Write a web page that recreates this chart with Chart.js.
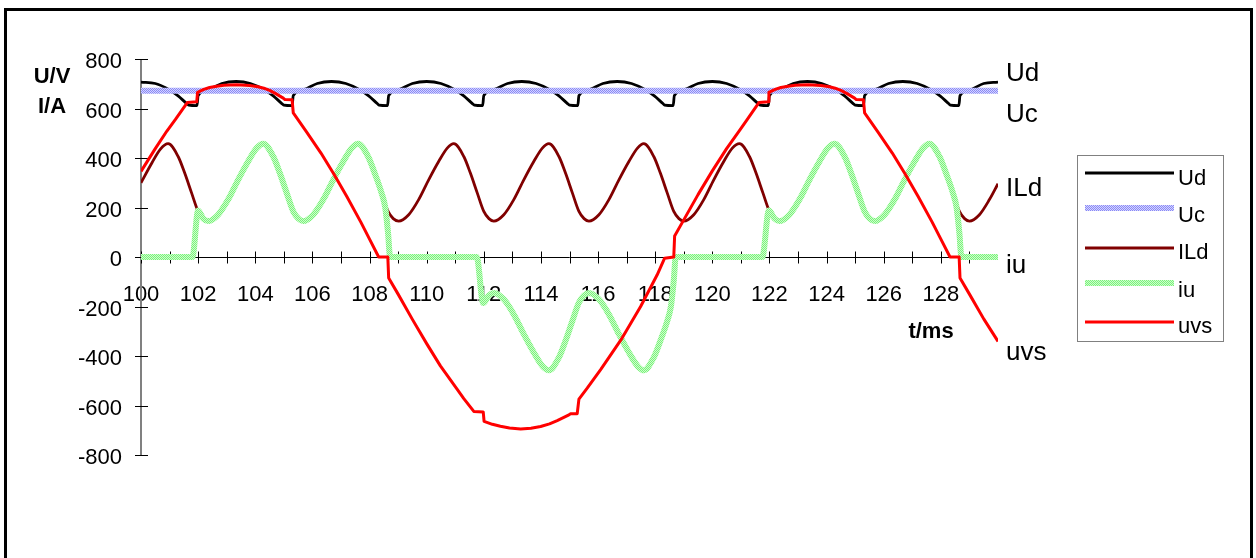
<!DOCTYPE html>
<html>
<head>
<meta charset="utf-8">
<script src="https://cdn.jsdelivr.net/npm/chart.js@4.4.1/dist/chart.umd.min.js"></script>
<style>
  html, body { margin: 0; padding: 0; background: #fff; overflow: hidden; }
  #frame { position: absolute; left: 4px; top: 8px; width: 1243px; height: 600px; border: 3px solid #000; }
  #wrap { position: absolute; left: 0; top: 0; width: 1256px; height: 558px; }
</style>
</head>
<body>
<div id="frame"></div>
<div id="wrap"><canvas id="c" width="1256" height="558"></canvas></div>
<script>
// series names, in Excel drawing order
const seriesNames = ['Ud', 'Uc', 'ILd', 'iu', 'uvs'];

// x tick labels (every 2 ms) and y ticks
const xTickLabels = ['100','102','104','106','108','110','112','114','116','118','120','122','124','126','128'];
const yTicks = [-800, -600, -400, -200, 0, 200, 400, 600, 800];

// Ud - DC voltage (V)
const udT = [
  100, 100.5, 101, 101.3, 101.6, 101.67, 101.96, 102, 102.33, 102.83,
  103.33, 103.83, 104.33, 104.63, 104.93, 105, 105.29, 105.33, 105.67, 106.17,
  106.67, 107.17, 107.67, 107.97, 108.27, 108.33, 108.63, 108.67, 109, 109.5,
  110, 110.5, 111, 111.3, 111.6, 111.67, 111.96, 112, 112.33, 112.83,
  113.33, 113.83, 114.33, 114.63, 114.93, 115, 115.29, 115.33, 115.67, 116.17,
  116.67, 117.17, 117.67, 117.97, 118.27, 118.33, 118.63, 118.67, 119, 119.5,
  120, 120.5, 121, 121.3, 121.6, 121.67, 121.96, 122, 122.33, 122.83,
  123.33, 123.83, 124.33, 124.63, 124.93, 125, 125.29, 125.33, 125.67, 126.17,
  126.67, 127.17, 127.67, 127.97, 128.27, 128.33, 128.63, 128.67, 129, 129.5,
  130
];
const udV = [
  707, 701, 675, 651, 620, 614, 612, 652, 675, 701,
  709, 701, 675, 651, 620, 614, 612, 652, 675, 701,
  709, 701, 675, 651, 620, 614, 612, 652, 675, 701,
  709, 701, 675, 651, 620, 614, 612, 652, 675, 701,
  709, 701, 675, 651, 620, 614, 612, 652, 675, 701,
  709, 701, 675, 651, 620, 614, 612, 652, 675, 701,
  709, 701, 675, 651, 620, 614, 612, 652, 675, 701,
  709, 701, 675, 651, 620, 614, 612, 652, 675, 701,
  709, 701, 675, 651, 620, 614, 612, 652, 675, 701,
  707
];

// Uc - capacitor voltage (V), flat
const ucT = [100, 130];
const ucV = [672, 672];

// ILd - DC current (A)
const ildT = [
  100, 100.38, 100.68,
  100.95, 101.3, 101.53, 101.77, 102, 102.18, 102.35, 102.7, 103.05, 103.4, 103.75, 104.05,
  104.28, 104.63, 104.86, 105.1, 105.33, 105.51, 105.68, 106.03, 106.38, 106.73, 107.08, 107.38,
  107.6, 107.95, 108.18, 108.42, 108.65, 108.83, 109.02, 109.37, 109.72, 110.07, 110.42, 110.72,
  110.95, 111.3, 111.53, 111.77, 112, 112.18, 112.35, 112.7, 113.05, 113.4, 113.75, 114.05,
  114.28, 114.63, 114.86, 115.1, 115.33, 115.51, 115.68, 116.03, 116.38, 116.73, 117.08, 117.38,
  117.6, 117.95, 118.18, 118.42, 118.65, 118.83, 119, 119.35, 119.7, 120.05, 120.4, 120.7,
  120.95, 121.3, 121.53, 121.77, 122, 122.18, 122.35, 122.7, 123.05, 123.4, 123.75, 124.05,
  124.28, 124.63, 124.86, 125.1, 125.33, 125.51, 125.68, 126.03, 126.38, 126.73, 127.08, 127.38,
  127.6, 127.95, 128.18, 128.42, 128.65, 128.83, 129, 129.35, 129.7, 130
];
const ildV = [
  300, 380, 436,
  458, 406, 339, 259, 184, 155, 145, 171, 232, 312, 386, 440,
  458, 406, 339, 259, 184, 155, 145, 171, 232, 312, 386, 440,
  458, 406, 339, 259, 184, 155, 145, 171, 232, 312, 386, 440,
  458, 406, 339, 259, 184, 155, 145, 171, 232, 312, 386, 440,
  458, 406, 339, 259, 184, 155, 145, 171, 232, 312, 386, 440,
  458, 406, 339, 259, 184, 155, 145, 171, 232, 312, 386, 440,
  458, 406, 339, 259, 184, 155, 145, 171, 232, 312, 386, 440,
  458, 406, 339, 259, 184, 155, 145, 171, 232, 312, 386, 440,
  458, 406, 339, 259, 184, 155, 145, 171, 232, 296
];

// iu - phase current (A)
const iuT = [
  100, 101.8, 102, 102.18, 102.35, 102.7, 103.05, 103.4, 103.75, 104.05,
  104.28, 104.63, 104.86, 105.1, 105.33, 105.51, 105.68, 106.03, 106.38, 106.73, 107.08, 107.38,
  107.6, 107.95, 108.18, 108.42, 108.55, 108.65, 108.72,
  111.75, 111.98, 112.18, 112.35, 112.7, 113.05, 113.4, 113.75, 114.05,
  114.28, 114.63, 114.86, 115.1, 115.33, 115.51, 115.68, 116.03, 116.38, 116.73, 117.08, 117.38,
  117.6, 117.95, 118.18, 118.42, 118.55, 118.65, 118.72,
  121.75, 121.98, 122.18, 122.35, 122.7, 123.05, 123.4, 123.75, 124.05,
  124.28, 124.63, 124.86, 125.1, 125.33, 125.51, 125.68, 126.03, 126.38, 126.73, 127.08, 127.38,
  127.6, 127.95, 128.18, 128.42, 128.55, 128.65, 128.72, 130
];
const iuV = [
  0, 0, 188, 155, 145, 171, 232, 312, 386, 440,
  458, 406, 339, 259, 184, 155, 145, 171, 232, 312, 386, 440,
  458, 406, 339, 259, 200, 95, 0,
  0, -186, -155, -145, -171, -232, -312, -386, -440,
  -458, -406, -339, -259, -184, -155, -145, -171, -232, -312, -386, -440,
  -458, -406, -339, -259, -200, -95, 0,
  0, 188, 155, 145, 171, 232, 312, 386, 440,
  458, 406, 339, 259, 184, 155, 145, 171, 232, 312, 386, 440,
  458, 406, 339, 259, 200, 95, 0, 0
];

// uvs - valve voltage (V)
const uvsT = [
  100, 100.5, 100.9, 101.2, 101.62, 101.95, 101.98, 102.2, 102.4, 102.65, 102.9, 103.35,
  103.8, 104.1, 104.3, 104.5, 104.7, 104.98, 105.04, 105.29, 105.33, 105.8, 106.3, 106.75,
  107.2, 107.7, 108, 108.32, 108.64, 108.67, 109, 109.5, 110, 110.48,
  111.07, 111.3, 111.65, 111.98, 112.01, 112.3, 112.58, 112.9, 113.29, 113.65, 113.99, 114.3, 114.57, 114.98,
  115.04, 115.27, 115.33, 115.62, 116.09, 116.8, 117.49, 118.07, 118.33, 118.65,
  118.68, 119, 119.5, 120, 120.5, 120.93, 121.2, 121.63, 121.95, 121.98,
  122.2, 122.4, 122.65, 122.9, 123.35, 123.8, 124.1, 124.3, 124.5, 124.7, 124.98, 125.04, 125.29, 125.33,
  125.8, 126.3, 126.75, 127.2, 127.7, 128, 128.32, 128.64, 128.67, 129,
  129.5, 130
];
const uvsV = [
  346, 438, 508, 555, 624, 627, 665, 677, 685, 690, 694, 696,
  693, 688, 682, 673, 661, 642, 636, 635, 582, 505, 420, 335,
  245, 140, 72, 0, 0, -85, -150, -252, -350, -440,
  -535, -572, -624, -626, -664, -676, -684, -691, -695, -692, -685, -674, -661, -638,
  -633, -633, -574, -530, -455, -335, -200, -72, -5, 0,
  85, 150, 252, 348, 438, 508, 552, 624, 627, 665,
  677, 685, 690, 694, 696, 693, 688, 682, 673, 661, 642, 636, 635, 582,
  505, 420, 335, 245, 140, 72, 0, 0, -85, -150,
  -250, -341
];

const FONT = "'Liberation Sans', Arial, sans-serif";

function toPoints(ts, vs) {
  return ts.map((t, i) => ({ x: t, y: vs[i] }));
}

const canvas = document.getElementById('c');
const mainCtx = canvas.getContext('2d');

// Excel-style dotted fill for the thick pale lines
function dotPattern(dark, light) {
  const c = document.createElement('canvas');
  c.width = 2; c.height = 2;
  const g = c.getContext('2d');
  g.fillStyle = light; g.fillRect(0, 0, 2, 2);
  g.fillStyle = dark; g.fillRect(0, 0, 1, 1); g.fillRect(1, 1, 1, 1);
  return mainCtx.createPattern(c, 'repeat');
}

const ucFill = dotPattern('#8a8af5', '#d4d4ff');
const iuFill = dotPattern('#7cf07c', '#ccffcc');

// end-of-line labels on the right
const endLabels = [
  { text: 'Ud', base: 81 },
  { text: 'Uc', base: 122 },
  { text: 'ILd', base: 196 },
  { text: 'iu', base: 273 },
  { text: 'uvs', base: 360 }
];

const decor = {
  id: 'decor',
  beforeDatasetsDraw(chart) {
    const { ctx, chartArea: a, scales: { x, y } } = chart;
    const y0 = Math.round(y.getPixelForValue(0)) + 0.5;
    ctx.save();
    // y axis (grey)
    ctx.strokeStyle = '#808080';
    ctx.lineWidth = 2;
    ctx.beginPath();
    ctx.moveTo(a.left, y.getPixelForValue(800));
    ctx.lineTo(a.left, y.getPixelForValue(-800));
    ctx.stroke();
    ctx.strokeStyle = '#000';
    ctx.lineWidth = 1;
    y.ticks.forEach(t => {
      const p = Math.round(y.getPixelForValue(t.value)) + 0.5;
      ctx.beginPath();
      ctx.moveTo(a.left - 6, p);
      ctx.lineTo(a.left + 7, p);
      ctx.stroke();
    });
    // x axis through zero
    ctx.beginPath();
    ctx.moveTo(a.left, y0);
    ctx.lineTo(a.right, y0);
    ctx.stroke();
    x.ticks.forEach(t => {
      if (t.value >= x.max) return;
      const p = Math.round(x.getPixelForValue(t.value)) + 0.5;
      ctx.beginPath();
      ctx.moveTo(p, y0 - 6);
      ctx.lineTo(p, y0 + 6);
      ctx.stroke();
    });
    ctx.restore();
  },
  afterDraw(chart) {
    const { ctx } = chart;
    ctx.save();
    ctx.fillStyle = '#000';
    ctx.textBaseline = 'alphabetic';

    // axis titles
    ctx.font = 'bold 22px ' + FONT;
    ctx.textAlign = 'center';
    ctx.fillText('U/V', 52, 83);
    ctx.fillText('I/A', 52, 113);
    ctx.fillText('t/ms', 931, 338);

    // labels at the line ends
    ctx.font = '26px ' + FONT;
    ctx.textAlign = 'left';
    endLabels.forEach(l => ctx.fillText(l.text, 1006, l.base));

    // legend box
    ctx.strokeStyle = '#808080';
    ctx.lineWidth = 1;
    ctx.strokeRect(1077.5, 155.5, 146, 186);
    const lineY = [173, 208, 248, 283, 322];
    const textBase = [185, 222, 259, 297, 333];
    ctx.font = '22px ' + FONT;
    chart.data.datasets.forEach((ds, i) => {
      ctx.strokeStyle = ds.borderColor;
      ctx.lineWidth = ds.borderWidth;
      ctx.beginPath();
      ctx.moveTo(1085, lineY[i]);
      ctx.lineTo(1174, lineY[i]);
      ctx.stroke();
      ctx.fillStyle = '#000';
      ctx.fillText(ds.label, 1178, textBase[i]);
    });
    ctx.restore();
  }
};

new Chart(canvas, {
  type: 'line',
  data: {
    datasets: [
      { label: seriesNames[0], data: toPoints(udT, udV), borderColor: '#000000', borderWidth: 2.8, order: 5 },
      { label: seriesNames[1], data: toPoints(ucT, ucV), borderColor: ucFill, borderWidth: 6, order: 4 },
      { label: seriesNames[2], data: toPoints(ildT, ildV), borderColor: '#800000', borderWidth: 2.8, order: 3 },
      { label: seriesNames[3], data: toPoints(iuT, iuV), borderColor: iuFill, borderWidth: 6, order: 2 },
      { label: seriesNames[4], data: toPoints(uvsT, uvsV), borderColor: '#ff0000', borderWidth: 3, order: 1,
        cubicInterpolationMode: 'default', tension: 0 }
    ]
  },
  options: {
    responsive: false,
    animation: false,
    devicePixelRatio: 1,
    layout: { padding: { left: 0, top: 59, right: 258, bottom: 103 } },
    plugins: { legend: { display: false }, tooltip: { enabled: false } },
    elements: {
      point: { radius: 0 },
      line: { cubicInterpolationMode: 'monotone', fill: false, borderJoinStyle: 'round' }
    },
    scales: {
      x: {
        type: 'linear',
        min: 100,
        max: 130,
        position: { y: 0 },
        afterFit: s => { s.height = 0; },
        grid: { display: false, drawTicks: false },
        border: { display: false },
        ticks: {
          stepSize: 1,
          autoSkip: false,
          maxRotation: 0,
          padding: 25,
          color: '#000',
          font: { family: FONT, size: 22 },
          callback: v => xTickLabels.includes(String(v)) ? String(v) : ''
        }
      },
      y: {
        type: 'linear',
        min: yTicks[0],
        max: yTicks[yTicks.length - 1],
        afterFit: s => { s.width = 141; },
        grid: { display: false, drawTicks: false },
        border: { display: false },
        ticks: {
          stepSize: 200,
          padding: 19,
          labelOffset: 3,
          color: '#000',
          font: { family: FONT, size: 22 }
        }
      }
    }
  },
  plugins: [decor]
});
</script>
</body>
</html>
